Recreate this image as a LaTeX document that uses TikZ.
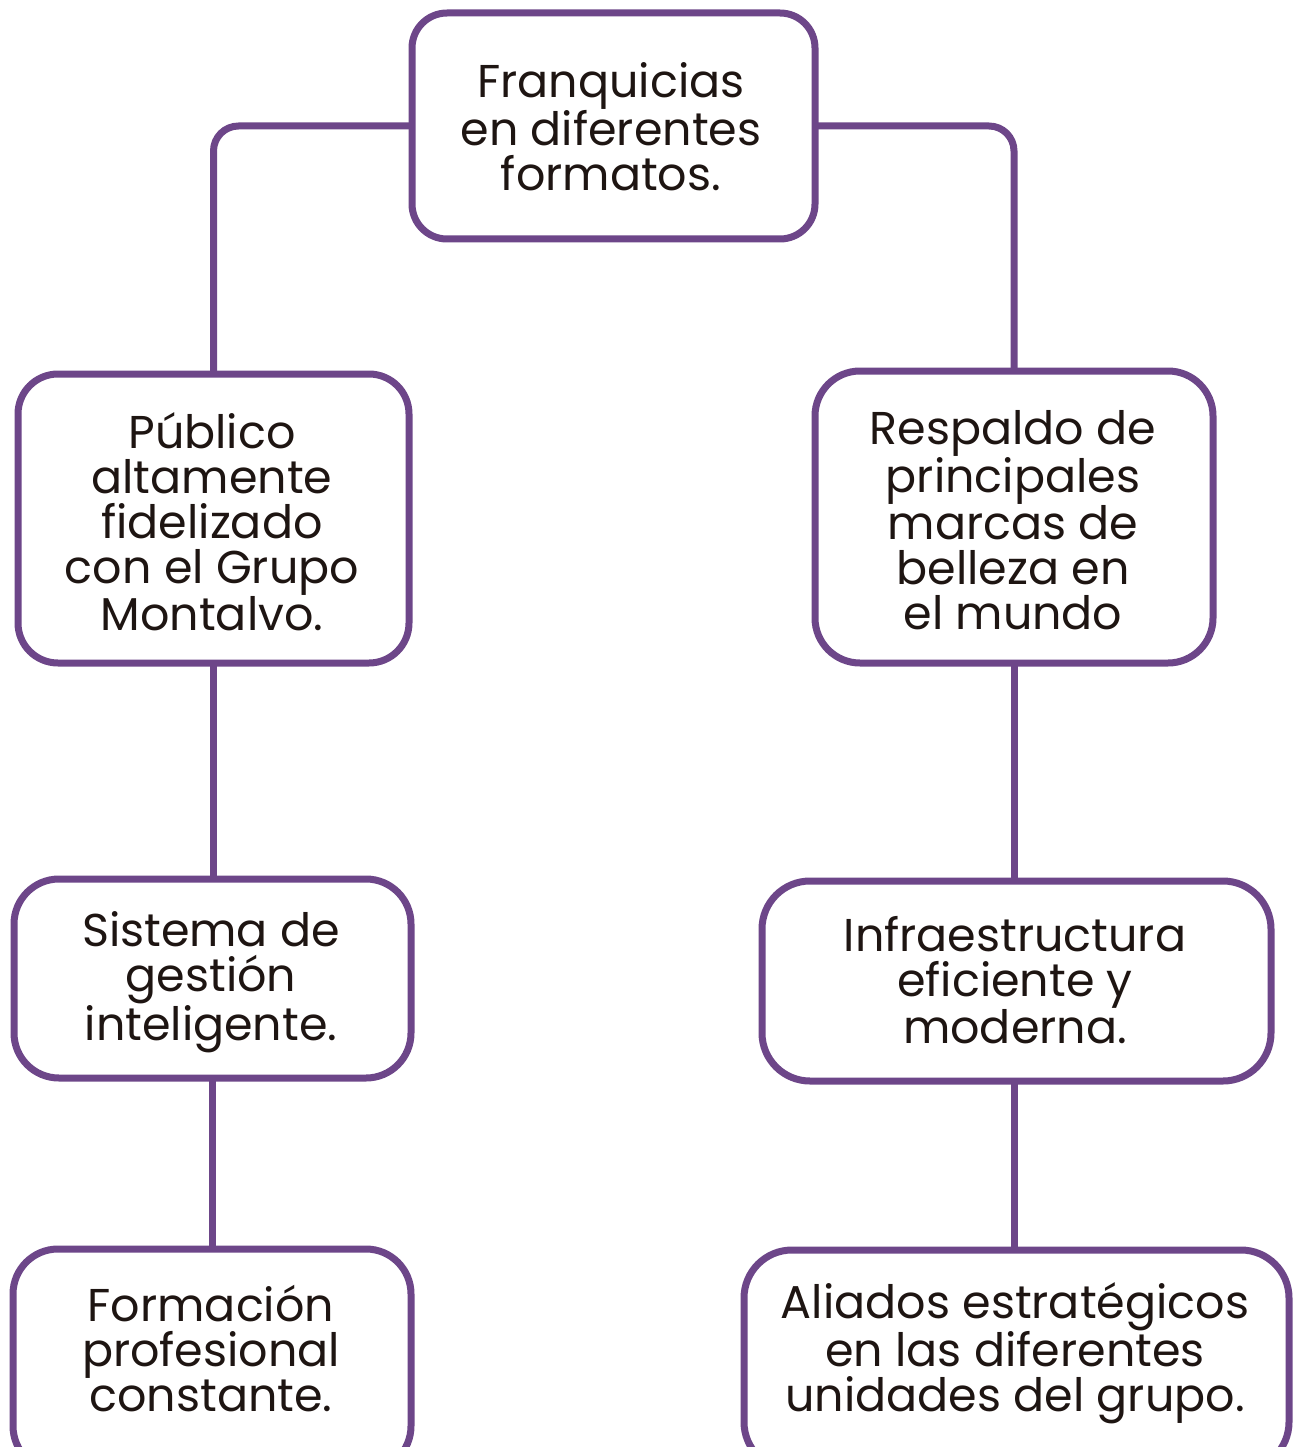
\documentclass[tikz,border=0pt]{standalone}
\usepackage{fontspec}
\setmainfont{Poppins}
\definecolor{lila}{HTML}{6D4689}
\definecolor{ink}{HTML}{1E1512}
\begin{document}
\begin{tikzpicture}[x=1pt,y=-1pt,
  box/.style={draw=lila,line width=7pt,fill=white,inner sep=0pt,outer sep=0pt,rectangle},
  txt/.style={text=ink,align=center,inner sep=0pt,font=\fontsize{46}{45}\selectfont},
  conn/.style={draw=lila,line width=7pt}]
\useasboundingbox (0,0) rectangle (1301,1447);
\clip (0,0) rectangle (1301,1447);
\node[box,minimum width=403,minimum height=226,rounded corners=35] (top) at (613.5,126) {};
\node[box,minimum width=391,minimum height=289,rounded corners=40] (l1) at (213.5,518.5) {};
\node[box,minimum width=397,minimum height=199,rounded corners=45] (l2) at (212.5,978.5) {};
\node[box,minimum width=398,minimum height=222,rounded corners=45] (l3) at (212,1360) {};
\node[box,minimum width=398,minimum height=292,rounded corners=45] (r1) at (1014,517) {};
\node[box,minimum width=509,minimum height=200,rounded corners=48] (r2) at (1016.5,981) {};
\node[box,minimum width=545,minimum height=220,rounded corners=48] (r3) at (1016.5,1360) {};
\node[txt] (topt) at (611,127) {Franquicias\\en diferentes\\formatos.};
\node[txt] (l1t) at (212,522) {Público\\altamente\\fidelizado\\con el Grupo\\Montalvo.};
\node[txt] (l2t) at (211,982) {Sistema de\\gestión\\inteligente.};
\node[txt] (l3t) at (211,1349) {Formación\\profesional\\constante.};
\node[txt] (r1t) at (1013,520) {Respaldo de\\principales\\marcas de\\belleza en\\el mundo};
\node[txt] (r2t) at (1015,980) {Infraestructura\\eficiente y\\moderna.};
\node[txt] (r3t) at (1015,1353) {Aliados estratégicos\\en las diferentes\\unidades del grupo.};
\draw[conn,rounded corners=25] (top.west) -| (l1.north);
\draw[conn,rounded corners=25] (top.east) -| (r1.north);
\draw[conn] (l1.south) -- (l1.south |- l2.north);
\draw[conn] (l2.south) -- (l2.south |- l3.north);
\draw[conn] (r1.south) -- (r1.south |- r2.north);
\draw[conn] (r2.south -| r1.south) -- (r1.south |- r3.north);
\end{tikzpicture}
\end{document}
